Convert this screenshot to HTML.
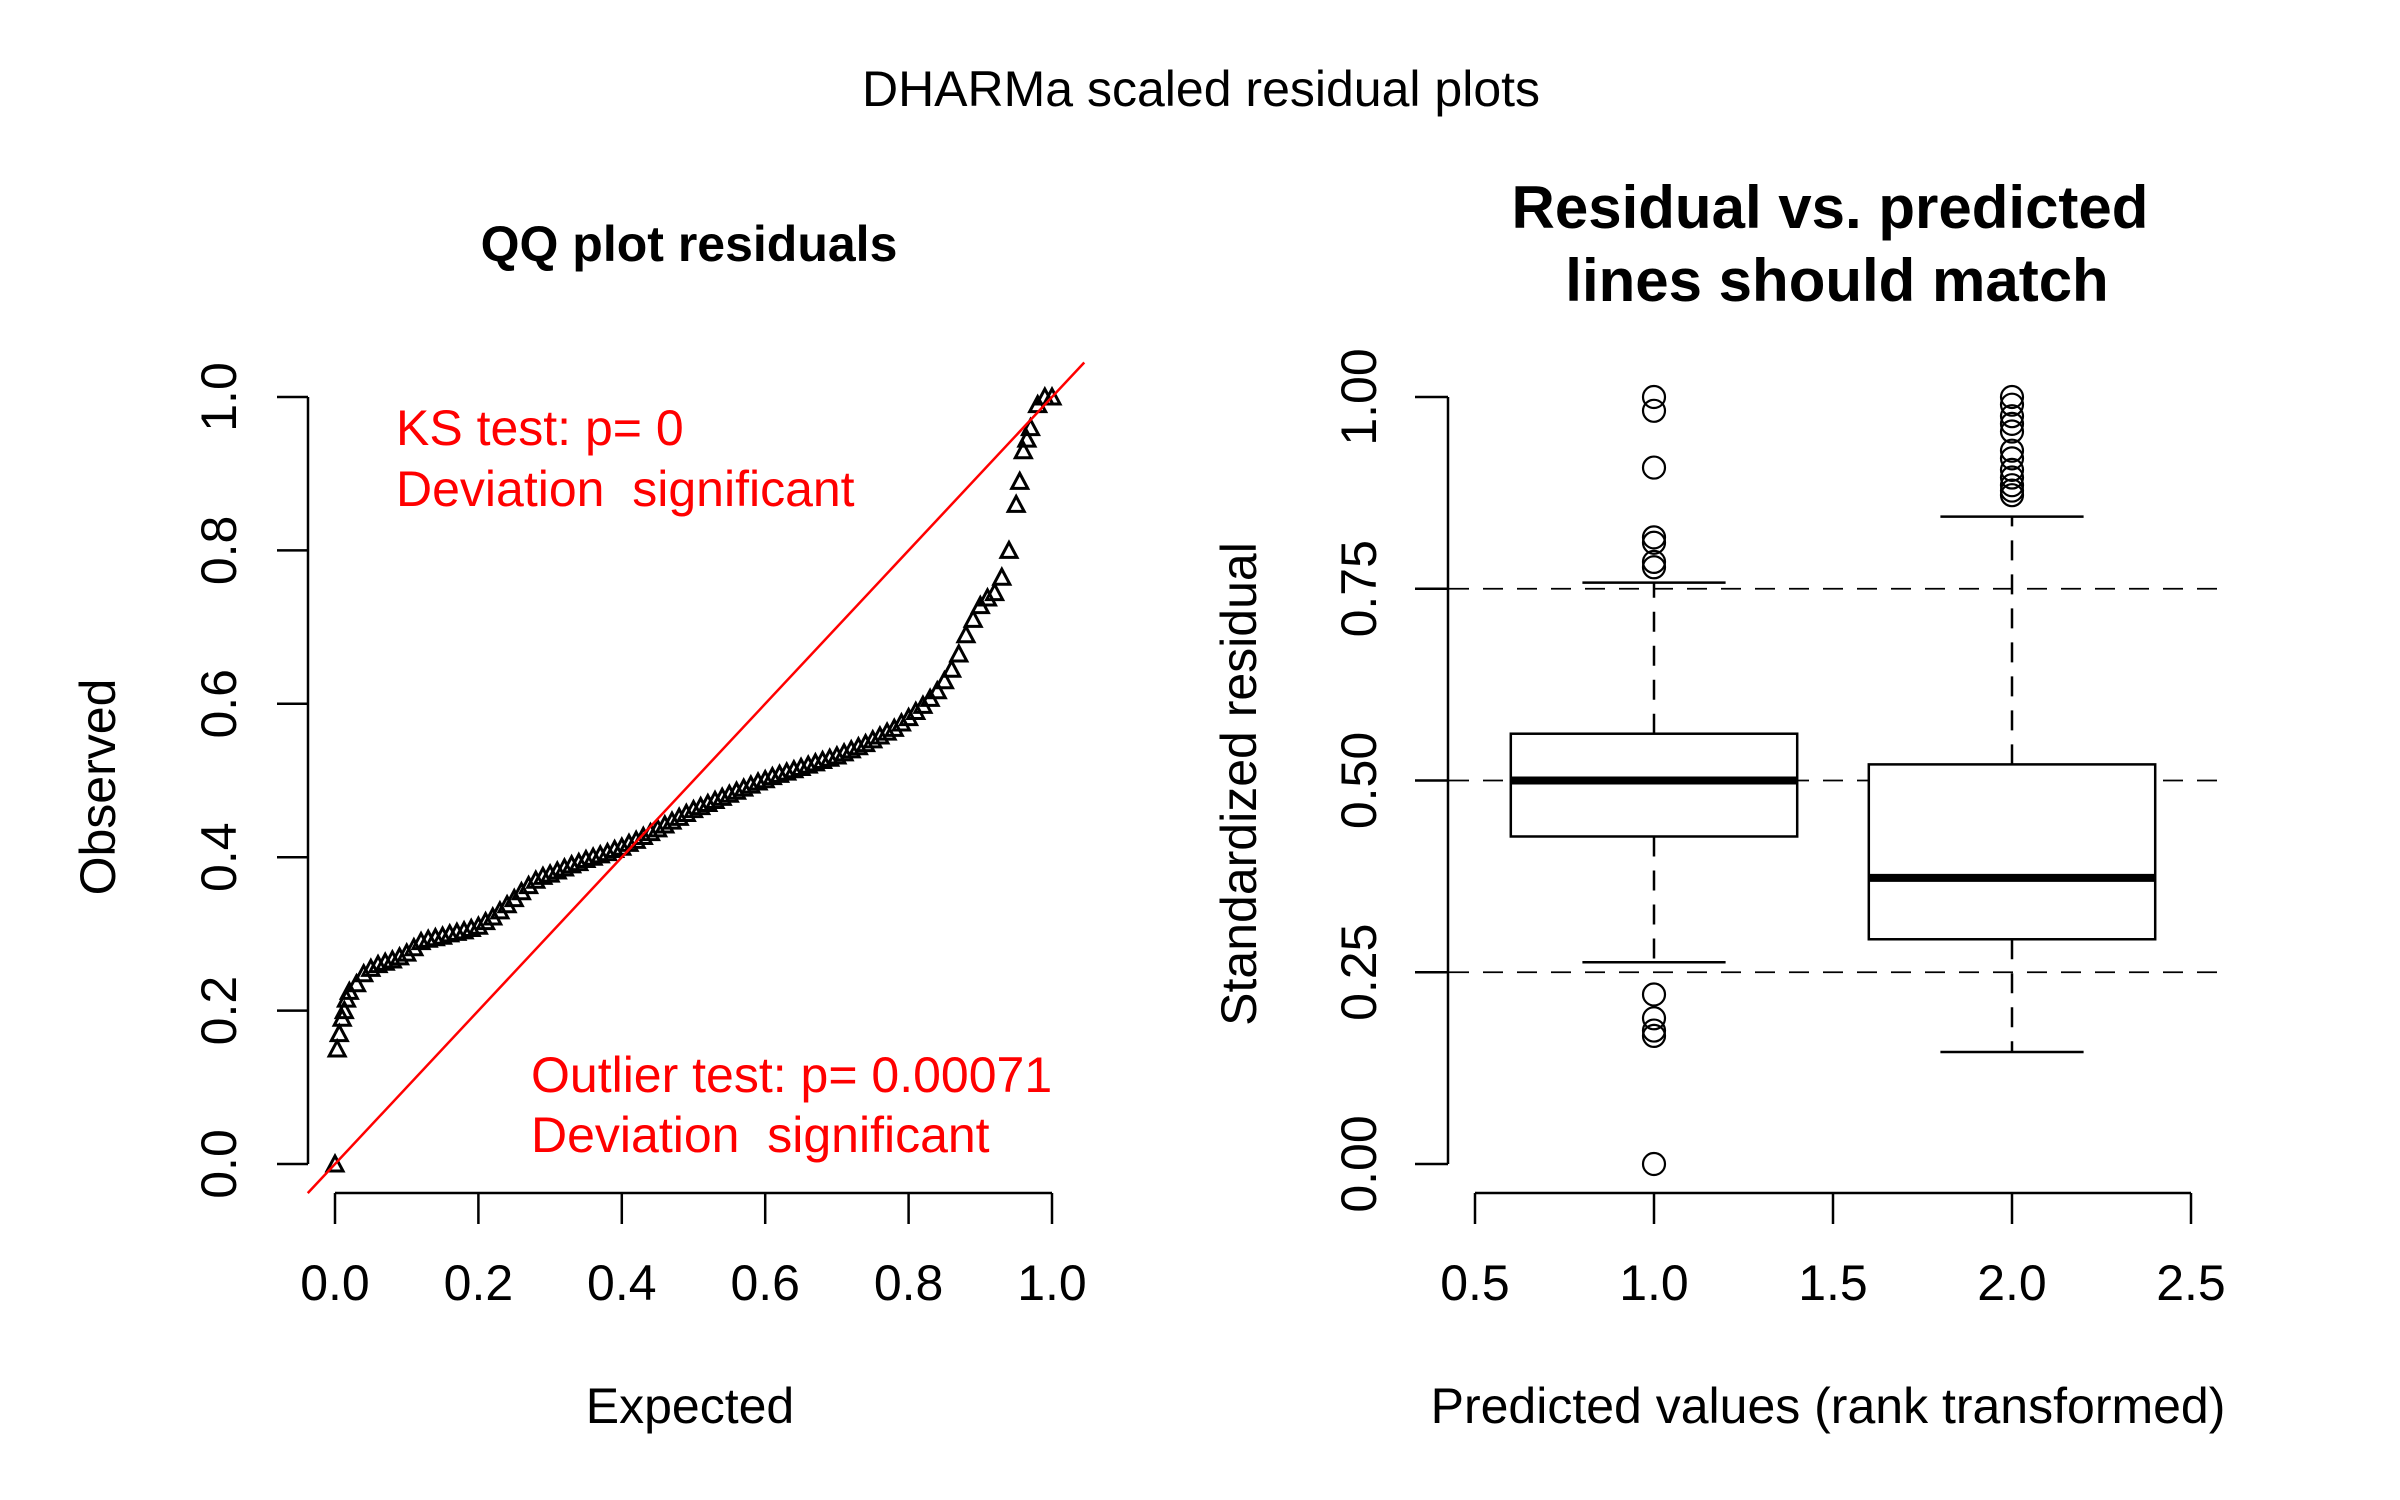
<!DOCTYPE html>
<html><head><meta charset="utf-8"><style>
html,body{margin:0;padding:0;background:#fff;}
svg{display:block;font-family:"Liberation Sans",Arial,sans-serif;}
.pre{white-space:pre;}
</style></head><body>
<svg id="svg" width="2400" height="1500" viewBox="0 0 2400 1500" xmlns="http://www.w3.org/2000/svg">
<text x="1201" y="106" font-size="50" text-anchor="middle">DHARMa scaled residual plots</text>
<text x="689" y="261" font-size="50" font-weight="bold" text-anchor="middle">QQ plot residuals</text>
<text x="1830" y="228" font-size="60" font-weight="bold" text-anchor="middle">Residual vs. predicted</text>
<text x="1837" y="301" font-size="60" font-weight="bold" text-anchor="middle">lines should match</text>
<g id="qq"></g>
<g id="box"></g>
</svg>
<script>
// QQ plot data
const qqExpected = [0,0.003,0.006,0.01,0.013,0.016,0.02,0.03,0.04,0.05,0.06,0.07,0.08,0.09,0.10,0.11,0.12,0.13,0.14,0.15,0.16,0.17,0.18,0.19,0.20,0.21,0.22,0.23,0.24,0.25,0.26,0.27,0.28,0.29,0.30,0.31,0.32,0.33,0.34,0.35,0.36,0.37,0.38,0.39,0.40,0.41,0.42,0.43,0.44,0.45,0.46,0.47,0.48,0.49,0.50,0.51,0.52,0.53,0.54,0.55,0.56,0.57,0.58,0.59,0.60,0.61,0.62,0.63,0.64,0.65,0.66,0.67,0.68,0.69,0.70,0.71,0.72,0.73,0.74,0.75,0.76,0.77,0.78,0.79,0.80,0.81,0.82,0.83,0.84,0.85,0.86,0.87,0.88,0.89,0.90,0.91,0.92,0.93,0.94,0.95,0.955,0.96,0.965,0.97,0.98,0.99,1.00];
const qqObserved = [0,0.15,0.17,0.19,0.2,0.215,0.225,0.235,0.248,0.255,0.26,0.263,0.266,0.27,0.275,0.282,0.29,0.293,0.295,0.297,0.3,0.302,0.304,0.307,0.31,0.316,0.322,0.33,0.338,0.346,0.355,0.363,0.37,0.375,0.378,0.382,0.386,0.39,0.393,0.397,0.4,0.403,0.406,0.41,0.413,0.418,0.422,0.427,0.432,0.437,0.442,0.447,0.452,0.457,0.462,0.466,0.47,0.474,0.478,0.482,0.486,0.49,0.494,0.498,0.501,0.505,0.508,0.511,0.514,0.517,0.52,0.523,0.526,0.529,0.532,0.536,0.54,0.544,0.548,0.553,0.558,0.563,0.568,0.575,0.582,0.59,0.598,0.607,0.617,0.63,0.645,0.665,0.69,0.71,0.728,0.738,0.745,0.765,0.8,0.86,0.89,0.93,0.945,0.96,0.99,1.0,1.0];
const qqTicks = [0,0.2,0.4,0.6,0.8,1.0];
const qqTickLabels = ["0.0","0.2","0.4","0.6","0.8","1.0"];
// Boxplot data
const groups = [1,2];
const boxQ1 = [0.427,0.293];
const boxMedian = [0.500,0.373];
const boxQ3 = [0.561,0.521];
const whiskerLow = [0.263,0.146];
const whiskerHigh = [0.758,0.844];
const outliers1 = [1.0,0.982,0.908,0.817,0.81,0.785,0.778,0.221,0.19,0.174,0.167,0.0];
const outliers2 = [1.0,0.99,0.975,0.965,0.955,0.93,0.92,0.905,0.895,0.885,0.878,0.872];
const boxXTicks = [0.5,1.0,1.5,2.0,2.5];
const boxXLabels = ["0.5","1.0","1.5","2.0","2.5"];
const boxYTicks = [0,0.25,0.5,0.75,1.0];
const boxYLabels = ["0.00","0.25","0.50","0.75","1.00"];
const refLines = [0.25,0.5,0.75];

const NS="http://www.w3.org/2000/svg";
function mk(parent,tag,attrs,text){const e=document.createElementNS(NS,tag);for(const k in attrs)e.setAttribute(k,attrs[k]);if(text!==undefined)e.textContent=text;parent.appendChild(e);return e;}
const yS = v => 1164 - v*767;
const qx = v => 335 + v*717;
const bx = v => 1475 + (v-0.5)*358;
const XAX = 1193, XT = 1224, XL = 1300;

// ---- QQ plot ----
const qq=document.getElementById('qq');
let e;
e=mk(qq,'line',{x1:308,y1:yS(0),x2:308,y2:yS(1),stroke:'#000','stroke-width':2.5});


e=mk(qq,'line',{x1:qx(0),y1:XAX,x2:qx(1),y2:XAX,stroke:'#000','stroke-width':2.5});


qqTicks.forEach((t,i)=>{
  let a=mk(qq,'line',{x1:277,y1:yS(t),x2:308,y2:yS(t),stroke:'#000','stroke-width':2.5});
  
  
  let l=mk(qq,'text',{x:0,y:0,'font-size':50,'text-anchor':'middle',transform:`translate(236,${yS(t)}) rotate(-90)`},qqTickLabels[i]);
  
  
  let b=mk(qq,'line',{x1:qx(t),y1:XAX,x2:qx(t),y2:XT,stroke:'#000','stroke-width':2.5});
  
  
  let m=mk(qq,'text',{x:qx(t),y:XL,'font-size':50,'text-anchor':'middle'},qqTickLabels[i]);
  
  
});
e=mk(qq,'text',{x:0,y:0,'font-size':50,'text-anchor':'middle',transform:'translate(115,787) rotate(-90)'},'Observed');


e=mk(qq,'text',{x:690,y:1423,'font-size':50,'text-anchor':'middle'},'Expected');


qqExpected.forEach((x,i)=>{
  const cx=qx(x), cy=yS(qqObserved[i]);
  let p=mk(qq,'path',{d:`M${cx-8},${cy+7} L${cx+8},${cy+7} L${cx},${cy-8} Z`,fill:'none',stroke:'#000','stroke-width':3});
  
  
});
e=mk(qq,'line',{x1:qx(-0.038),y1:yS(-0.038),x2:qx(1.045),y2:yS(1.045),stroke:'#f00','stroke-width':2.5});


e=mk(qq,'text',{x:396,y:445,'font-size':50,fill:'#f00'},'KS test: p= 0');


e=mk(qq,'text',{x:396,y:506,'font-size':50,fill:'#f00','class':'pre'},'Deviation  significant');


e=mk(qq,'text',{x:531,y:1092,'font-size':50,fill:'#f00'},'Outlier test: p= 0.00071');


e=mk(qq,'text',{x:531,y:1152,'font-size':50,fill:'#f00','class':'pre'},'Deviation  significant');



// ---- Boxplot ----
const bp=document.getElementById('box');
e=mk(bp,'line',{x1:1448,y1:yS(0),x2:1448,y2:yS(1),stroke:'#000','stroke-width':2.5});


e=mk(bp,'line',{x1:bx(0.5),y1:XAX,x2:bx(2.5),y2:XAX,stroke:'#000','stroke-width':2.5});


boxYTicks.forEach((t,i)=>{
  let a=mk(bp,'line',{x1:1415,y1:yS(t),x2:1448,y2:yS(t),stroke:'#000','stroke-width':2.5});
  
  
  let l=mk(bp,'text',{x:0,y:0,'font-size':50,'text-anchor':'middle',transform:`translate(1376,${yS(t)}) rotate(-90)`},boxYLabels[i]);
  
  
});
boxXTicks.forEach((t,i)=>{
  let b=mk(bp,'line',{x1:bx(t),y1:XAX,x2:bx(t),y2:XT,stroke:'#000','stroke-width':2.5});
  
  
  let m=mk(bp,'text',{x:bx(t),y:XL,'font-size':50,'text-anchor':'middle'},boxXLabels[i]);
  
  
});
e=mk(bp,'text',{x:0,y:0,'font-size':50,'text-anchor':'middle',transform:'translate(1256,784) rotate(-90)'},'Standardized residual');


e=mk(bp,'text',{x:1828,y:1423,'font-size':50,'text-anchor':'middle'},'Predicted values (rank transformed)');


refLines.forEach(v=>{
  let r=mk(bp,'line',{x1:1415,y1:yS(v),x2:2219,y2:yS(v),stroke:'#000','stroke-width':1.8,'stroke-dasharray':'20 14'});
  
  
});
const outl=[outliers1,outliers2];
groups.forEach((g,i)=>{
  const c=bx(g), w=0.4*358, cw=0.2*358;
  let s;
  s=mk(bp,'line',{x1:c,y1:yS(boxQ3[i]),x2:c,y2:yS(whiskerHigh[i]),stroke:'#000','stroke-width':2.5,'stroke-dasharray':'20 14'});
  
  
  s=mk(bp,'line',{x1:c,y1:yS(boxQ1[i]),x2:c,y2:yS(whiskerLow[i]),stroke:'#000','stroke-width':2.5,'stroke-dasharray':'20 14'});
  
  
  s=mk(bp,'line',{x1:c-cw,y1:yS(whiskerHigh[i]),x2:c+cw,y2:yS(whiskerHigh[i]),stroke:'#000','stroke-width':2.5});
  
  
  s=mk(bp,'line',{x1:c-cw,y1:yS(whiskerLow[i]),x2:c+cw,y2:yS(whiskerLow[i]),stroke:'#000','stroke-width':2.5});
  
  
  s=mk(bp,'rect',{x:c-w,y:yS(boxQ3[i]),width:2*w,height:yS(boxQ1[i])-yS(boxQ3[i]),fill:'#fff',stroke:'#000','stroke-width':2.5});
  
  
  s=mk(bp,'line',{x1:c-w,y1:yS(boxMedian[i]),x2:c+w,y2:yS(boxMedian[i]),stroke:'#000','stroke-width':8});
  
  
  outl[i].forEach(v=>{
    let o=mk(bp,'circle',{cx:c,cy:yS(v),r:11,fill:'none',stroke:'#000','stroke-width':2.2});
    
    
  });
});
</script>
</body></html>
